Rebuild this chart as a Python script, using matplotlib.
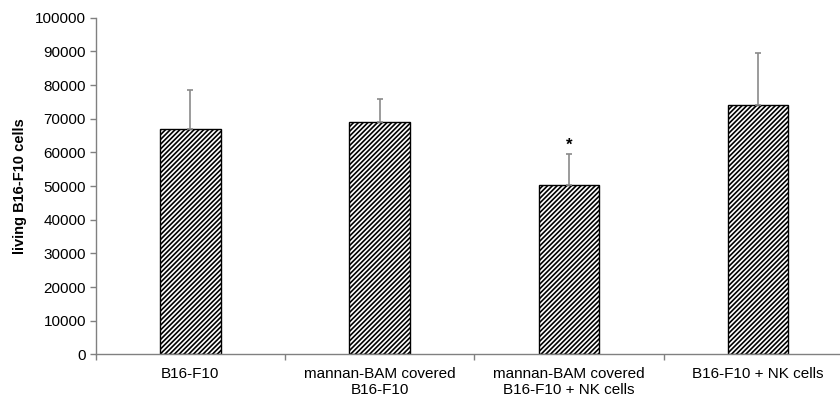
import matplotlib
matplotlib.use('Agg')
import matplotlib.pyplot as plt
import numpy as np

# values
groups = ['B16-F10', 'mannan-BAM covered\nB16-F10', 'mannan-BAM covered\nB16-F10 + NK cells', 'B16-F10 + NK cells']
living_cells = [67000, 69000, 50300, 74000]
upper_err = [11500, 6800, 9200, 15500]
yticks = np.arange(0, 100001, 10000)

plt.rcParams['font.family'] = ['Liberation Sans', 'DejaVu Sans']
plt.rcParams['hatch.linewidth'] = 1.2

fig = plt.figure(figsize=(8.4, 4.01), dpi=100)
ax = fig.add_axes([0.1139, 0.116, 0.9014, 0.8398])

x = np.arange(len(groups))
ax.bar(x, living_cells, width=0.32, color='white', edgecolor='black',
       linewidth=1.0, hatch='/' * 7)
ax.errorbar(x, living_cells, yerr=[np.zeros(len(x)), upper_err], fmt='none',
            ecolor='#8a8a8a', elinewidth=1.2, capsize=2.2, capthick=1.2)

# significance mark over third group
ax.text(x[2], living_cells[2] + upper_err[2] + 500, '*', ha='center', va='bottom',
        fontsize=12, fontweight='bold')

ax.set_xlim(-0.5, len(groups) - 0.5)
ax.set_ylim(0, 100000)
ax.set_yticks(yticks)
ax.set_yticklabels([str(v) for v in yticks], fontsize=11)

# ticks between categories, labels at centres
ax.set_xticks(np.arange(len(groups) + 1) - 0.5)
ax.set_xticklabels([])
ax.set_xticks(x, minor=True)
ax.set_xticklabels(groups, minor=True, fontsize=11, linespacing=1.15)
ax.tick_params(axis='x', which='minor', length=0, pad=9)
ax.tick_params(axis='x', which='major', length=4, color='#808080', width=1)
ax.tick_params(axis='y', length=4, color='#808080', width=1, pad=3)

for side in ['top', 'right']:
    ax.spines[side].set_visible(False)
for side in ['left', 'bottom']:
    ax.spines[side].set_color('#808080')
    ax.spines[side].set_linewidth(1)

ax.set_ylabel('living B16-F10 cells', fontsize=10.5, fontweight='bold', labelpad=6)

fig.savefig('out.png', dpi=100)
